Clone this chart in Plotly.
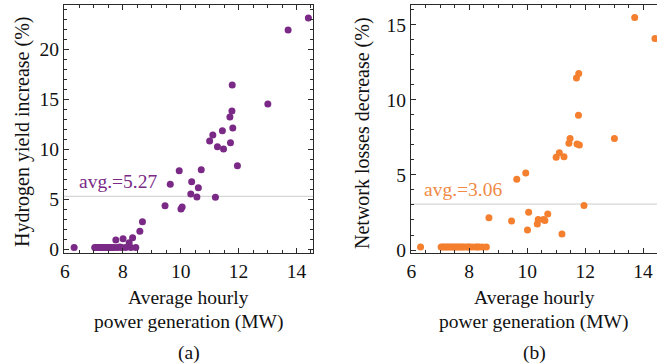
import plotly.graph_objects as go

# ---------------- data ----------------
power_gen = [6.32, 7.03, 7.09, 7.15, 7.21, 7.27, 7.33, 7.40, 7.46, 7.52, 7.58, 7.64, 7.70,
             7.76, 7.82, 7.90, 7.97, 8.01, 8.10, 8.22, 8.28, 8.34, 8.45, 8.59, 8.68,
             9.46, 9.64, 9.95, 10.01, 10.05, 10.35, 10.38, 10.56, 10.61, 10.71,
             11.00, 11.11, 11.20, 11.27, 11.44, 11.48, 11.70, 11.72, 11.77, 11.78, 11.80, 11.96,
             13.01, 13.71, 14.41]
h2_increase = [0.15, 0.15, 0.15, 0.15, 0.15, 0.15, 0.15, 0.15, 0.15, 0.15, 0.15, 0.15, 0.15,
               0.90, 0.15, 0.20, 0.15, 1.03, 0.15, 0.63, 0.15, 1.13, 0.15, 1.77, 2.73,
               4.33, 6.47, 7.83, 4.00, 4.20, 5.50, 6.73, 5.20, 6.13, 7.93,
               10.80, 11.40, 5.17, 10.23, 11.83, 10.00, 13.20, 10.63, 13.80, 16.40, 12.10, 8.33,
               14.50, 21.90, 23.10]
loss_decrease = [0.2, 0.2, 0.2, 0.2, 0.2, 0.2, 0.2, 0.2, 0.2, 0.2, 0.2, 0.2, 0.2,
                 0.2, 0.2, 0.2, 0.2, 0.2, 0.2, 0.2, 0.2, 0.2, 0.2, 0.2, 2.15,
                 1.93, 4.71, 5.13, 1.33, 2.51, 1.73, 2.04, 2.04, 1.96, 2.40,
                 6.18, 6.49, 1.07, 6.22, 7.11, 7.44, 11.47, 7.07, 8.98, 11.76, 7.00, 2.96,
                 7.44, 15.50, 14.09]
h2_avg = 5.27
loss_avg = 3.06
x_ticks = [6, 8, 10, 12, 14]
h2_ticks = [0, 5, 10, 15, 20]
loss_ticks = [0, 5, 10, 15]
x_title_lines = ["Average hourly", "power generation (MW)"]
h2_title = "Hydrogen yield increase (%)"
loss_title = "Network losses decrease (%)"
panel_labels = ["(a)", "(b)"]

# ---------------- style ----------------
W, H = 657, 364
FONT = "Liberation Serif, Times New Roman, serif"
PURPLE = "#7a2a86"
ORANGE = "#f37f2f"
ORANGE_TXT = "#f08a45"
FRAME = "#2a2a2a"
FS = 19.5


def px(x):
    return x / W


def py(y):
    return 1 - y / H


fig = go.Figure()
fig.add_trace(go.Scatter(x=power_gen, y=h2_increase, mode="markers",
                         marker=dict(size=7, color=PURPLE, line=dict(width=0)),
                         xaxis="x", yaxis="y", showlegend=False))
fig.add_trace(go.Scatter(x=power_gen, y=loss_decrease, mode="markers",
                         marker=dict(size=7, color=ORANGE, line=dict(width=0)),
                         xaxis="x2", yaxis="y2", showlegend=False))

common = dict(showline=True, linecolor=FRAME, linewidth=1.2, mirror="allticks",
              ticks="inside", ticklen=5, tickwidth=1, tickcolor=FRAME,
              showgrid=False, zeroline=False, automargin=False,
              tickfont=dict(family=FONT, size=FS, color="#111"))
common_r = dict(common, mirror=False)

fig.update_layout(
    template="none",
    width=W, height=H, margin=dict(l=0, r=0, t=0, b=0, pad=0),
    paper_bgcolor="white", plot_bgcolor="white",
    font=dict(family=FONT, size=FS, color="#111"),
    xaxis=dict(domain=[px(64), px(313)], anchor="y", range=[5.97, 14.57],
               tickvals=x_ticks,
               minor=dict(dtick=0.5, tick0=0, ticks="inside", ticklen=2.5, tickcolor=FRAME),
               **common),
    yaxis=dict(domain=[py(253), py(5)], anchor="x", range=[-0.4, 24.4],
               tickvals=h2_ticks,
               minor=dict(dtick=1, tick0=0, ticks="inside", ticklen=2.5, tickcolor=FRAME),
               **common),
    xaxis2=dict(domain=[px(411), 1.0], anchor="y2", range=[5.99, 14.48],
                tickvals=x_ticks,
                minor=dict(dtick=0.5, tick0=0, ticks="inside", ticklen=2.5, tickcolor=FRAME),
                **common),
    yaxis2=dict(domain=[py(253), py(5)], anchor="x2", range=[-0.2, 16.33],
                tickvals=loss_ticks,
                minor=dict(dtick=1, tick0=0, ticks="inside", ticklen=2.5, tickcolor=FRAME),
                **common_r),
)

# average lines
fig.add_shape(type="line", xref="x domain", yref="y", x0=0, x1=1, y0=h2_avg, y1=h2_avg,
              line=dict(color="#cccccc", width=1), layer="below")
fig.add_shape(type="line", xref="x2 domain", yref="y2", x0=0, x1=1, y0=loss_avg, y1=loss_avg,
              line=dict(color="#cccccc", width=1), layer="below")

ann = []
ann.append(dict(text=f"avg.={h2_avg}", xref="x domain", yref="y", x=13 / 249, y=h2_avg,
                xanchor="left", yanchor="bottom", yshift=2, showarrow=False,
                font=dict(family=FONT, size=FS, color=PURPLE)))
ann.append(dict(text=f"avg.={loss_avg}", xref="x2 domain", yref="y2", x=11 / 246, y=loss_avg,
                xanchor="left", yanchor="bottom", yshift=2, showarrow=False,
                font=dict(family=FONT, size=FS, color=ORANGE_TXT)))
# y titles
ann.append(dict(text=h2_title, xref="paper", yref="paper", x=px(22), y=py(132),
                xanchor="center", yanchor="middle",
                textangle=-90, showarrow=False, font=dict(family=FONT, size=20, color="#111")))
ann.append(dict(text=loss_title, xref="paper", yref="paper", x=px(362), y=py(133),
                xanchor="center", yanchor="middle",
                textangle=-90, showarrow=False, font=dict(family=FONT, size=20, color="#111")))
# x titles and panel labels
for cx, lab in [(188.5, panel_labels[0]), (534, panel_labels[1])]:
    for yy, t in zip([297, 322], x_title_lines):
        ann.append(dict(text=t, xref="paper", yref="paper", x=px(cx), y=py(yy),
                        xanchor="center", yanchor="middle",
                        showarrow=False, font=dict(family=FONT, size=FS, color="#111")))
    ann.append(dict(text=lab, xref="paper", yref="paper", x=px(cx), y=py(353),
                    xanchor="center", yanchor="middle",
                    showarrow=False, font=dict(family=FONT, size=FS, color="#111")))
fig.update_layout(annotations=ann)

fig.write_html("out.html", config={"displayModeBar": False},
               post_script="document.body.style.margin='0px';")
